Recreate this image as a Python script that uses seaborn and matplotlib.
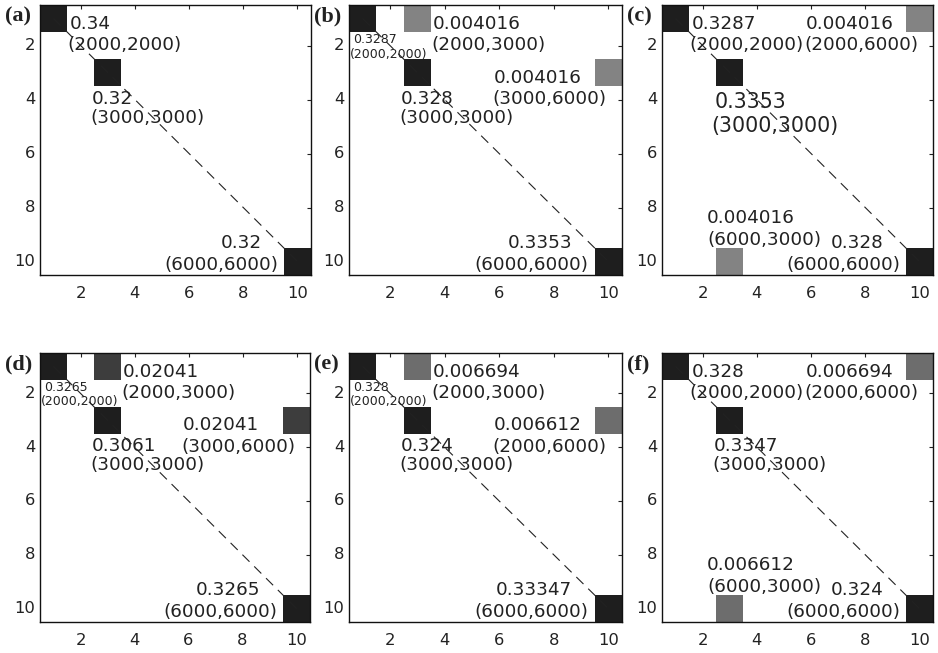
import numpy as np
import matplotlib
matplotlib.use("Agg")
import matplotlib.pyplot as plt
from matplotlib.colors import LogNorm, LinearSegmentedColormap
import seaborn as sns

sns.set_style("white")
plt.rcParams["font.family"] = ["DejaVu Sans"]

# ---------------- data ----------------
N = 10
tick_positions = [2, 4, 6, 8, 10]
tick_labels = ["2", "4", "6", "8", "10"]
panel_names = ["(a)", "(b)", "(c)", "(d)", "(e)", "(f)"]

a_rows = [1, 3, 10]
a_cols = [1, 3, 10]
a_values = [0.34, 0.32, 0.32]
a_pairs = ["(2000,2000)", "(3000,3000)", "(6000,6000)"]
a_place = ["E", "S", "NW"]

b_rows = [1, 1, 3, 3, 10]
b_cols = [1, 3, 3, 10, 10]
b_values = [0.3287, 0.004016, 0.328, 0.004016, 0.3353]
b_pairs = ["(2000,2000)", "(2000,3000)", "(3000,3000)", "(3000,6000)", "(6000,6000)"]
b_place = ["Ssm", "E", "S", "W", "NW"]

c_rows = [1, 1, 3, 10, 10]
c_cols = [1, 10, 3, 3, 10]
c_values = [0.3287, 0.004016, 0.3353, 0.004016, 0.328]
c_pairs = ["(2000,2000)", "(2000,6000)", "(3000,3000)", "(6000,3000)", "(6000,6000)"]
c_place = ["E", "W", "Sbig", "N", "NW"]

d_rows = [1, 1, 3, 3, 10]
d_cols = [1, 3, 3, 10, 10]
d_values = [0.3265, 0.02041, 0.3061, 0.02041, 0.3265]
d_pairs = ["(2000,2000)", "(2000,3000)", "(3000,3000)", "(3000,6000)", "(6000,6000)"]
d_place = ["Ssm", "E", "S", "W", "NW"]

e_rows = [1, 1, 3, 3, 10]
e_cols = [1, 3, 3, 10, 10]
e_values = [0.328, 0.006694, 0.324, 0.006612, 0.33347]
e_pairs = ["(2000,2000)", "(2000,3000)", "(3000,3000)", "(2000,6000)", "(6000,6000)"]
e_place = ["Ssm", "E", "S", "W", "NW"]

f_rows = [1, 1, 3, 10, 10]
f_cols = [1, 10, 3, 3, 10]
f_values = [0.328, 0.006694, 0.3347, 0.006612, 0.324]
f_pairs = ["(2000,2000)", "(2000,6000)", "(3000,3000)", "(6000,3000)", "(6000,6000)"]
f_place = ["E", "W", "S", "N", "NW"]

panels = [
    (a_rows, a_cols, a_values, a_pairs, a_place),
    (b_rows, b_cols, b_values, b_pairs, b_place),
    (c_rows, c_cols, c_values, c_pairs, c_place),
    (d_rows, d_cols, d_values, d_pairs, d_place),
    (e_rows, e_cols, e_values, e_pairs, e_place),
    (f_rows, f_cols, f_values, f_pairs, f_place),
]

# ---------------- style ----------------
TXT = "#222222"
FS = 13.2
cmap = LinearSegmentedColormap.from_list("wk", ["#ffffff", "#1e1e1e"])
norm = LogNorm(vmin=2.17e-4, vmax=0.0422, clip=True)

# placement presets: (dx, dy, ha, fontsize) for value line and pair line,
# offsets relative to the cell centre, dy to the text baseline
PLACE = {
    "E":    ((0.58, 0.38, "left", FS), (0.52, 1.17, "left", FS)),
    "S":    ((-0.59, 1.15, "left", FS), (-0.65, 1.86, "left", FS)),
    "Ssm":  ((-0.35, 0.92, "left", 9.0), (-0.45, 1.45, "left", 9.0)),
    "Sbig": ((-0.54, 1.33, "left", 14.8), (-0.68, 2.2, "left", 14.8)),
    "W":    ((-4.2, 0.38, "left", FS), (-4.25, 1.17, "left", FS)),
    "NW":   ((-1.33, -0.5, "right", FS), (-0.72, 0.33, "right", FS)),
    "N":    ((-0.84, -1.42, "left", FS), (-0.82, -0.62, "left", FS)),
}

W, H = 938, 653
fig = plt.figure(figsize=(W / 100, H / 100), dpi=100)
boxes = [  # left, top, right, bottom in pixels
    (40, 5, 311, 275), (349, 5, 622, 275), (662, 5, 933, 275),
    (40, 353, 310, 622), (349, 353, 622, 622), (662, 353, 933, 622),
]

for k, (rows, cols, vals, pairs, place) in enumerate(panels):
    l, t, r, b = boxes[k]
    ax = fig.add_axes([l / W, 1 - b / H, (r - l) / W, (b - t) / H])
    mat = np.zeros((N, N))
    for rr, cc, vv in zip(rows, cols, vals):
        mat[rr - 1, cc - 1] = vv
    sns.heatmap(mat, mask=(mat == 0), cmap=cmap, norm=norm, cbar=False,
                ax=ax, xticklabels=False, yticklabels=False)
    ax.set_xlim(0, N)
    ax.set_ylim(N, 0)
    for sp in ax.spines.values():
        sp.set_visible(True)
        sp.set_color("#111111")
        sp.set_linewidth(1.0)
    ax.set_xticks([p - 0.5 for p in tick_positions])
    ax.set_yticks([p - 0.5 for p in tick_positions])
    ax.set_xticklabels(tick_labels, rotation=0)
    ax.set_yticklabels(tick_labels, rotation=0, va="center")
    ax.tick_params(axis="both", direction="in", top=True, right=True,
                   length=3, width=0.8, color="#222222",
                   labelsize=11.8, labelcolor=TXT)
    ax.tick_params(axis="x", pad=8)
    ax.tick_params(axis="y", pad=3.5)
    # dashed diagonal
    ax.plot([0.5, N - 0.5], [0.5, N - 0.5], color="#222222", lw=0.8,
            linestyle=(0, (9, 6)), zorder=4)
    for rr, cc, vv, pp, pl in zip(rows, cols, vals, pairs, place):
        (vdx, vdy, vha, vfs), (pdx, pdy, pha, pfs) = PLACE[pl]
        ax.text(cc + vdx - 0.5, rr + vdy - 0.5, f"{vv:g}", ha=vha,
                va="baseline", fontsize=vfs, color=TXT, zorder=3, clip_on=False)
        ax.text(cc + pdx - 0.5, rr + pdy - 0.5, pp, ha=pha,
                va="baseline", fontsize=pfs, color=TXT, zorder=3, clip_on=False)
    fig.text((l - 35) / W, 1 - (t + 1) / H, panel_names[k], ha="left", va="top",
             fontsize=16, fontweight="bold", family="Liberation Serif", color=TXT)

fig.savefig("out.png", dpi=100)
